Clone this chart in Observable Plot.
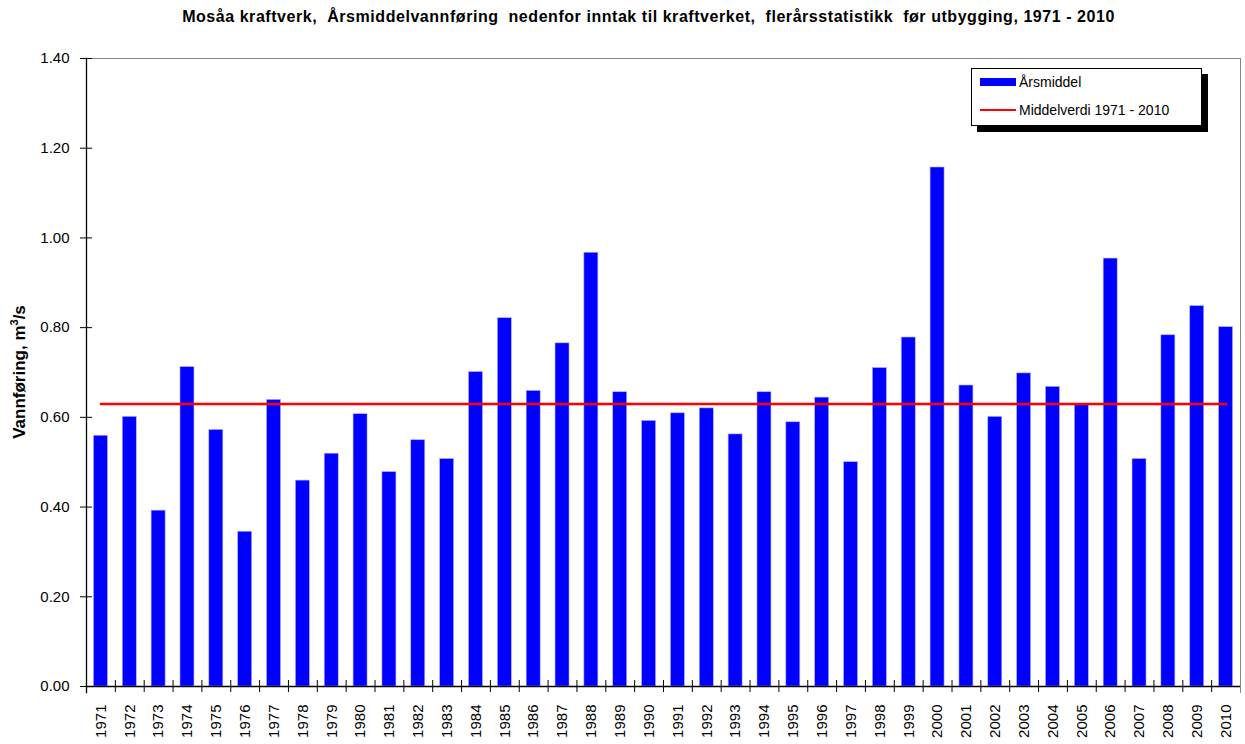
<!DOCTYPE html>
<html><head><meta charset="utf-8">
<script src="https://cdn.jsdelivr.net/npm/d3@7"></script>
<script src="https://cdn.jsdelivr.net/npm/@observablehq/plot@0.6"></script>
<style>
body{margin:0;background:#fff;font-family:"Liberation Sans",Arial,sans-serif;}
#wrap{position:relative;width:1245px;height:744px;overflow:hidden;}
#chart{position:absolute;left:0;top:0;}
#title{position:absolute;left:26px;top:8px;width:1245px;text-align:center;font-weight:bold;font-size:16px;letter-spacing:0.55px;white-space:pre;color:#000;}
#ylabel{position:absolute;left:19px;top:372px;transform:translate(-50%,-50%) rotate(-90deg);font-weight:bold;font-size:17px;white-space:nowrap;}
#legend{position:absolute;left:971px;top:68px;width:229px;height:56px;border:1px solid #000;background:#fff;box-shadow:6px 6px 0 #000;font-size:14px;}
.sw{position:absolute;left:8px;width:36px;}
.lt{position:absolute;left:47px;}
</style></head>
<body>
<div id="wrap">
  <div id="chart"></div>
  <div id="title">Mosåa kraftverk,  Årsmiddelvannføring  nedenfor inntak til kraftverket,  flerårsstatistikk  før utbygging, 1971 - 2010</div>
  <div id="ylabel">Vannføring, m<sup style="font-size:11px">3</sup>/s</div>
  <div id="legend">
    <div class="sw" style="top:9px;height:8px;background:#0000ff"></div>
    <div class="lt" style="top:5px">Årsmiddel</div>
    <div class="sw" style="top:40px;height:2px;background:#ff0000"></div>
    <div class="lt" style="top:33px">Middelverdi 1971 - 2010</div>
  </div>
</div>
<script>
const years = ["1971","1972","1973","1974","1975","1976","1977","1978","1979","1980",
  "1981","1982","1983","1984","1985","1986","1987","1988","1989","1990",
  "1991","1992","1993","1994","1995","1996","1997","1998","1999","2000",
  "2001","2002","2003","2004","2005","2006","2007","2008","2009","2010"];
const values = [0.559,0.601,0.392,0.712,0.572,0.345,0.639,0.459,0.519,0.607,
  0.478,0.549,0.507,0.701,0.821,0.659,0.765,0.967,0.656,0.592,
  0.609,0.620,0.562,0.656,0.589,0.644,0.500,0.710,0.778,1.157,
  0.671,0.601,0.698,0.668,0.629,0.954,0.507,0.783,0.848,0.801];
const meanValue = 0.63;
const yTicks = [0, 0.2, 0.4, 0.6, 0.8, 1.0, 1.2, 1.4];

const data = years.map((y, i) => ({year: y, value: values[i]}));
const meanData = years.map(y => ({year: y, value: meanValue}));

const W = 1245, H = 744, ML = 86, MR = 5, MT = 58, MB = 58;
const frameW = W - ML - MR, frameH = H - MT - MB;
const step = frameW / years.length;

const chart = Plot.plot({
  width: W, height: H,
  marginLeft: ML, marginRight: MR, marginTop: MT, marginBottom: MB,
  style: {fontFamily: "Liberation Sans, Arial, sans-serif", fontSize: "15px", color: "#000", background: "#fff"},
  x: {type: "band", domain: years, paddingInner: 0.515, paddingOuter: 0.2575, align: 0.5},
  y: {domain: [0, 1.4]},
  marks: [
    Plot.frame({anchor: "top", stroke: "#888"}),
    Plot.frame({anchor: "right", stroke: "#888", insetBottom: -6}),
    Plot.barY(data, {x: "year", y: "value", fill: "#0000ff", stroke: "#b0b0ff", strokeWidth: 0.6}),
    Plot.lineY(meanData, {x: "year", y: "value", stroke: "#ff0000", strokeWidth: 2.5}),
    Plot.tickX(years, {x: d => d, dx: -step / 2, stroke: "#000", insetTop: frameH - 6, insetBottom: -6}),
    Plot.tickY(yTicks, {y: d => d, stroke: "#000", insetLeft: -6, insetRight: frameW - 6}),
    Plot.ruleY([0], {stroke: "#000", strokeWidth: 1.3}),
    Plot.frame({anchor: "left", stroke: "#000", strokeWidth: 1.3, insetBottom: -6}),
    Plot.axisY({ticks: yTicks, tickFormat: d3.format(".2f"), tickSize: 0, tickPadding: 17, label: null, fontSize: 15}),
    Plot.axisX({tickSize: 0, tickRotate: -90, tickPadding: 18, label: null, fontSize: 15})
  ]
});
document.getElementById("chart").appendChild(chart);
</script>
</body></html>
